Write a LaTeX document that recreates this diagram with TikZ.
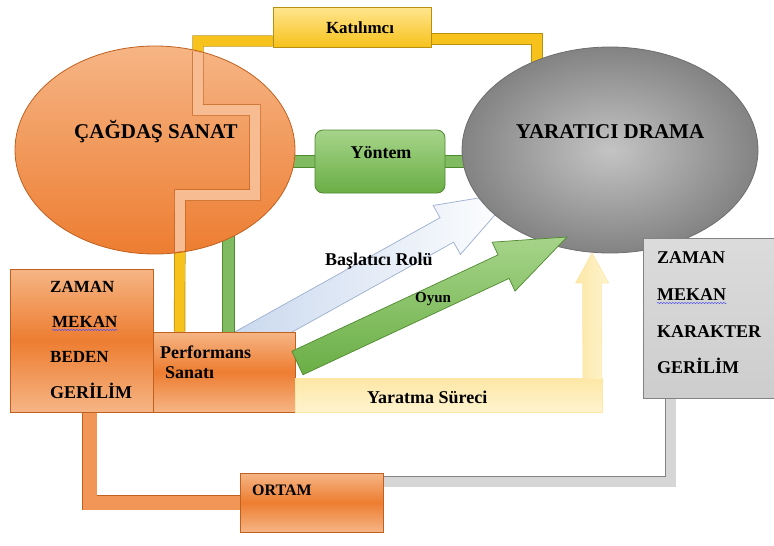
\documentclass[tikz,border=0pt]{standalone}
\usepackage{fontspec}
\setmainfont{LiberationSerif}[Extension=.ttf, UprightFont=*-Regular, BoldFont=*-Bold]
\usetikzlibrary{calc,backgrounds,shapes.geometric,decorations.pathmorphing}

\definecolor{oM}{HTML}{ED7D31}
\definecolor{oL}{HTML}{F6B585}
\definecolor{oD}{HTML}{C0601E}
\definecolor{grL}{HTML}{C4C4C4}
\definecolor{grD}{HTML}{838383}
\definecolor{grE}{HTML}{6E6E6E}
\definecolor{yM}{HTML}{F7C21C}
\definecolor{yL}{HTML}{FFE58F}
\definecolor{yD}{HTML}{B8900F}
\definecolor{yP}{HTML}{FFF4CF}
\definecolor{yQ}{HTML}{FDE7A6}
\definecolor{gM}{HTML}{6AAE45}
\definecolor{gL}{HTML}{A6D48A}
\definecolor{gD}{HTML}{4F8A30}
\definecolor{bL}{HTML}{C9D8EE}
\definecolor{bD}{HTML}{A3B5D2}

% fat arrow: [style]{tail}{tip}{half shaft}{half head}{head length}
\newcommand\fatarrow[6][]{%
  \coordinate (fan) at ($(#3)!#6!(#2)$);
  \draw[#1] ($(#2)!#4!90:(#3)$) -- ($(fan)!#4!90:(#3)$)
    -- ($(fan)!#5!90:(#3)$) -- (#3) -- ($(fan)!#5!-90:(#3)$)
    -- ($(fan)!#4!-90:(#3)$) -- ($(#2)!#4!-90:(#3)$) -- cycle;}

\begin{document}
\begin{tikzpicture}[x=1pt, y=-1pt, font=\bfseries]
  \tikzstyle{ell}=[ellipse, line width=0.8pt]
  \tikzstyle{obox}=[rectangle, draw=oD, line width=0.8pt, top color=oL, bottom color=oL, middle color=oM]
  \tikzstyle{lbl}=[inner sep=0pt, anchor=base west, font=\fontsize{18}{20}\selectfont\bfseries]
  \tikzstyle{big}=[inner sep=0pt, anchor=base, font=\fontsize{21}{24}\selectfont\bfseries]
  \tikzstyle{ybar}=[draw=yD, double=yM, line width=0.7pt, double distance=10pt]
  \tikzstyle{obar}=[draw=oD, double=oL!90!white, line width=0.7pt, double distance=10pt]
  \tikzstyle{gbar}=[draw=gD, double=gM!85!white, line width=0.7pt, double distance=11pt]
  \tikzstyle{kbar}=[draw=grD, double=grL!70!white, line width=0.7pt, double distance=10pt]
  \tikzstyle{wavy}=[draw=blue!70, line width=0.5pt, decorate, decoration={snake, amplitude=0.6pt, segment length=3pt}]

  \useasboundingbox (0,0) rectangle (774,546);

  % --- main shapes ---
  \node[ell, minimum width=280pt, minimum height=208pt, draw=oD, top color=oL, bottom color=oM] (cagdas) at (155,150) {};
  \node[ell, minimum width=296pt, minimum height=206pt, draw=grE, inner color=grL, outer color=grD] (drama) at (610,150) {};
  \node[rectangle, draw=yD, line width=0.8pt, top color=yL, bottom color=yM, minimum width=158pt, minimum height=40pt] (katil) at (352,27) {};
  \node[rectangle, rounded corners=8pt, draw=gD, line width=0.8pt, top color=gL, bottom color=gM, minimum width=130pt, minimum height=63pt] (yontem) at (380,161.5) {};
  \node[obox, minimum width=143pt, minimum height=143pt] (zmbg) at (81.5,340.5) {};
  \node[obox, minimum width=142pt, minimum height=80pt] (perf) at (224,372) {};
  \node[obox, minimum width=143pt, minimum height=59pt] (ortam) at (311.5,502.5) {};
  \node[rectangle, draw=grD, line width=0.8pt, top color=grL!60!white, bottom color=grL!85!white, minimum width=131pt, minimum height=160pt] (graybox) at (708.5,318) {};

  % --- connectors behind the shapes ---
  \begin{scope}[on background layer]
    \fatarrow[draw=bD, line width=0.8pt, left color=bL, right color=white]{$(perf.north west)+(81,17)$}{$(drama.center)+(-95,42)$}{14pt}{28pt}{78pt}
    \draw[ybar] ([yshift=-14pt]katil.west) -| (198,110) -- (255,110) -- (255,195) -- (180,195) -- ([xshift=27pt]perf.north west);
    \draw[ybar] ([yshift=-12pt]katil.east) -| (537,66);
    \draw[gbar] ([xshift=-6pt]cagdas.east |- yontem.west) -- (yontem.west);
    \draw[gbar] (yontem.east) -- ([xshift=6pt]drama.west |- yontem.east);
    \draw[gbar] ([xshift=76pt]perf.north west) -- ++(0,-110);
    \draw[obar, double=oM!55!oL, double distance=14pt] ([xshift=8pt]zmbg.south) |- (ortam.west);
    \draw[kbar] ([yshift=21pt]ortam.east) -| ([xshift=-38pt]graybox.south);
  \end{scope}

  % part of the Katilimci line seen through the ellipse
  \begin{scope}
    \clip (cagdas.center) ellipse [x radius=139pt, y radius=103pt];
    \draw[obar] ([yshift=-14pt]katil.west) -| (198,110) -- (255,110) -- (255,195) -- (180,195) -- ([xshift=27pt]perf.north west);
  \end{scope}

  % --- Yaratma Sureci and Oyun ---
  \draw[draw=yQ, line width=0.6pt, top color=yQ, bottom color=yP] (perf.south east) rectangle ++(307,-34);
  \fatarrow[draw=yQ, line width=0.6pt, left color=yQ, right color=yP]{$(perf.south east)+(297,-33)$}{$(drama.center)+(-18,103)$}{9.5pt}{16.5pt}{30pt}
  \fatarrow[draw=gD, line width=0.7pt, top color=gL, bottom color=gM]{$(perf.east)+(2,-9)$}{$(drama.center)+(-43,87)$}{13pt}{27pt}{70pt}

  % --- texts ---
  \node[big] (cagdasT) at (156,138) {ÇAĞDAŞ SANAT};
  \node[big] (dramaT) at (610,138) {YARATICI DRAMA};
  \node[lbl, anchor=base, font=\fontsize{17}{20}\selectfont\bfseries] (katilT) at (360,33) {Katılımcı};
  \node[lbl, anchor=base] (yontemT) at (381,158) {Yöntem};

  \node[lbl, font=\fontsize{17}{20}\selectfont\bfseries] (zm1) at (50,292) {ZAMAN};
  \node[lbl, font=\fontsize{17}{20}\selectfont\bfseries] (mk1) at (52,327) {MEKAN};
  \node[lbl, font=\fontsize{17}{20}\selectfont\bfseries] (bd1) at (50,362) {BEDEN};
  \node[lbl] (gr1) at (50,398) {GERİLİM};
  \draw[wavy] ([yshift=-3pt]mk1.base west) -- ([yshift=-3pt]mk1.base east);

  \node[lbl] (perfT) at (160,358) {Performans};
  \node[lbl] (sanT) at (165,378) {Sanatı};
  \node[lbl, font=\fontsize{16}{18}\selectfont\bfseries] (ortamT) at (252,495) {ORTAM};

  \node[lbl] (zm2) at (657,263) {ZAMAN};
  \node[lbl] (mk2) at (657,300) {MEKAN};
  \node[lbl] (kr2) at (657,337) {KARAKTER};
  \node[lbl] (gr2) at (657,373) {GERİLİM};
  \draw[wavy] ([yshift=-3pt]mk2.base west) -- ([yshift=-3pt]mk2.base east);

  \node[lbl] (baslatT) at (325,265) {Başlatıcı Rolü};
  \node[lbl, font=\fontsize{15}{17}\selectfont\bfseries] (oyunT) at (415,302) {Oyun};
  \node[lbl] (yaratT) at (367,403) {Yaratma Süreci};
\end{tikzpicture}
\end{document}
